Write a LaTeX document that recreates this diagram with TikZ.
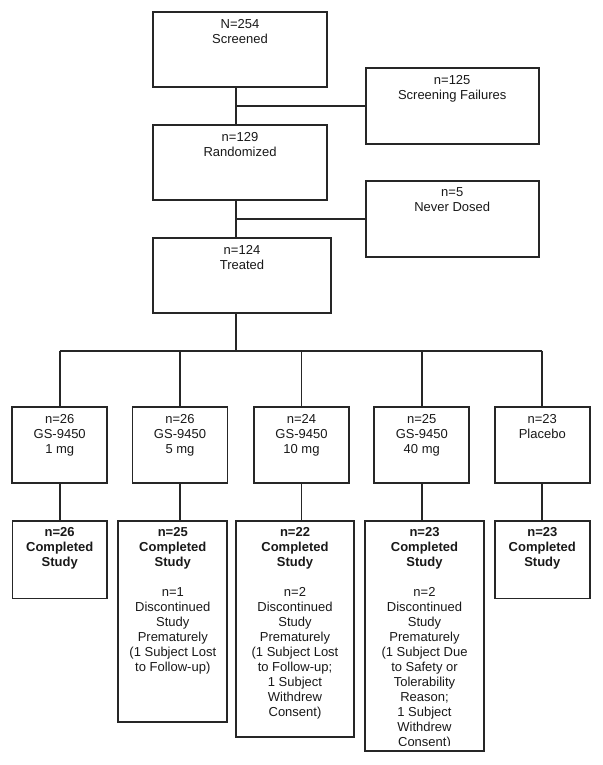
\documentclass[tikz,border=0pt]{standalone}
\usepackage{fontspec}
\setmainfont{Liberation Sans}
\begin{document}
\begin{tikzpicture}[x=1pt,y=-1pt,
  box/.style={draw=black!85, line width=1.7pt, inner sep=0pt, rectangle},
  txt/.style={inner sep=0pt, align=center, anchor=north, font=\fontsize{13}{15}\selectfont, text=black!90},
  link/.style={draw=black!85, line width=1.7pt}]
\useasboundingbox[fill=white] (0,0) rectangle (602,765);
% top column
\node[box, minimum width=173.4pt, minimum height=75pt] (scr) at (240,49.8) {};
\node[box, minimum width=173pt, minimum height=76pt] (fail) at (452.2,106.3) {};
\node[box, minimum width=173.4pt, minimum height=75pt] (rnd) at (240,162.8) {};
\node[box, minimum width=173pt, minimum height=75.7pt] (nev) at (452.2,218.8) {};
\node[box, minimum width=177.4pt, minimum height=75pt] (trt) at (242,275.8) {};
\node[txt] (tscr) at ([yshift=-7.5pt]scr.north) {N=254\\Screened};
\node[txt] (tfail) at ([yshift=-7.5pt]fail.north) {n=125\\Screening Failures};
\node[txt] (trnd) at ([yshift=-7.5pt]rnd.north) {n=129\\Randomized};
\node[txt] (tnev) at ([yshift=-7.5pt]nev.north) {n=5\\Never Dosed};
\node[txt] (ttrt) at ([yshift=-7.5pt]trt.north) {n=124\\Treated};
% trunk coordinates
\coordinate (j1) at (236.3,106.3);
\coordinate (j2) at (236.3,218.8);
\coordinate (j3) at (236.3,350.7);
\draw[link] (j1 |- scr.south) -- (j1 |- rnd.north);
\draw[link] (j1) -- (fail.west);
\draw[link] (j2 |- rnd.south) -- (j2 |- trt.north);
\draw[link] (j2) -- (nev.west);
\draw[link] (j3 |- trt.south) -- (j3);
% row of arms
\node[box, minimum width=95pt, minimum height=76pt] (a1) at (59.7,445.3) {};
\node[box, minimum width=95pt, minimum height=76pt] (a2) at (180,445.3) {};
\node[box, minimum width=95pt, minimum height=76pt] (a3) at (301.5,445.3) {};
\node[box, minimum width=95pt, minimum height=76pt] (a4) at (421.8,445.3) {};
\node[box, minimum width=95pt, minimum height=76pt] (a5) at (542.3,445.3) {};
\node[txt] (ta1) at ([yshift=-7.5pt]a1.north) {n=26\\GS-9450\\1 mg};
\node[txt] (ta2) at ([yshift=-7.5pt]a2.north) {n=26\\GS-9450\\5 mg};
\node[txt] (ta3) at ([yshift=-7.5pt]a3.north) {n=24\\GS-9450\\10 mg};
\node[txt] (ta4) at ([yshift=-7.5pt]a4.north) {n=25\\GS-9450\\40 mg};
\node[txt] (ta5) at ([yshift=-7.5pt]a5.north) {n=23\\Placebo};
\coordinate (bl) at (a1.north |- j3);
\coordinate (br) at (a5.north |- j3);
\draw[link] (bl) -- (br);
\foreach \a in {a1,a2,a3,a4,a5} \draw[link] (\a.north |- j3) -- (\a.north);
% bottom boxes
\node[box, minimum width=94.7pt, minimum height=77.3pt] (b1) at (59.7,559.7) {};
\node[box, minimum width=109pt, minimum height=201pt] (b2) at (172.8,621.5) {};
\node[box, minimum width=118.6pt, minimum height=215.7pt] (b3) at (295,628.9) {};
\node[box, minimum width=118.4pt, minimum height=230pt] (b4) at (424.5,636) {};
\node[box, minimum width=94.7pt, minimum height=77.3pt] (b5) at (542.3,559.7) {};
\foreach \a/\b in {a1/b1,a2/b2,a3/b3,a4/b4,a5/b5} \draw[link] (\a.south) -- (\a.south |- \b.north);
\node[txt] (tb1) at ([yshift=-7.3pt]b1.north) {\textbf{n=26}\\\textbf{Completed}\\\textbf{Study}};
\node[txt] (tb2) at ([yshift=-7.3pt]b2.north) {\textbf{n=25}\\\textbf{Completed}\\\textbf{Study}\\[15pt]n=1\\Discontinued\\Study\\Prematurely\\(1 Subject Lost\\to Follow-up)};
\node[txt] (tb3) at ([yshift=-7.3pt]b3.north) {\textbf{n=22}\\\textbf{Completed}\\\textbf{Study}\\[15pt]n=2\\Discontinued\\Study\\Prematurely\\(1 Subject Lost\\to Follow-up;\\1 Subject\\Withdrew\\Consent)};
\begin{scope}
\clip (360,515) rectangle (490,745.8);
\node[txt] (tb4) at ([yshift=-7.3pt]b4.north) {\textbf{n=23}\\\textbf{Completed}\\\textbf{Study}\\[15pt]n=2\\Discontinued\\Study\\Prematurely\\(1 Subject Due\\to Safety or\\Tolerability\\Reason;\\1 Subject\\Withdrew\\Consent)};
\end{scope}
\node[txt] (tb5) at ([yshift=-7.3pt]b5.north) {\textbf{n=23}\\\textbf{Completed}\\\textbf{Study}};
\end{tikzpicture}
\end{document}
